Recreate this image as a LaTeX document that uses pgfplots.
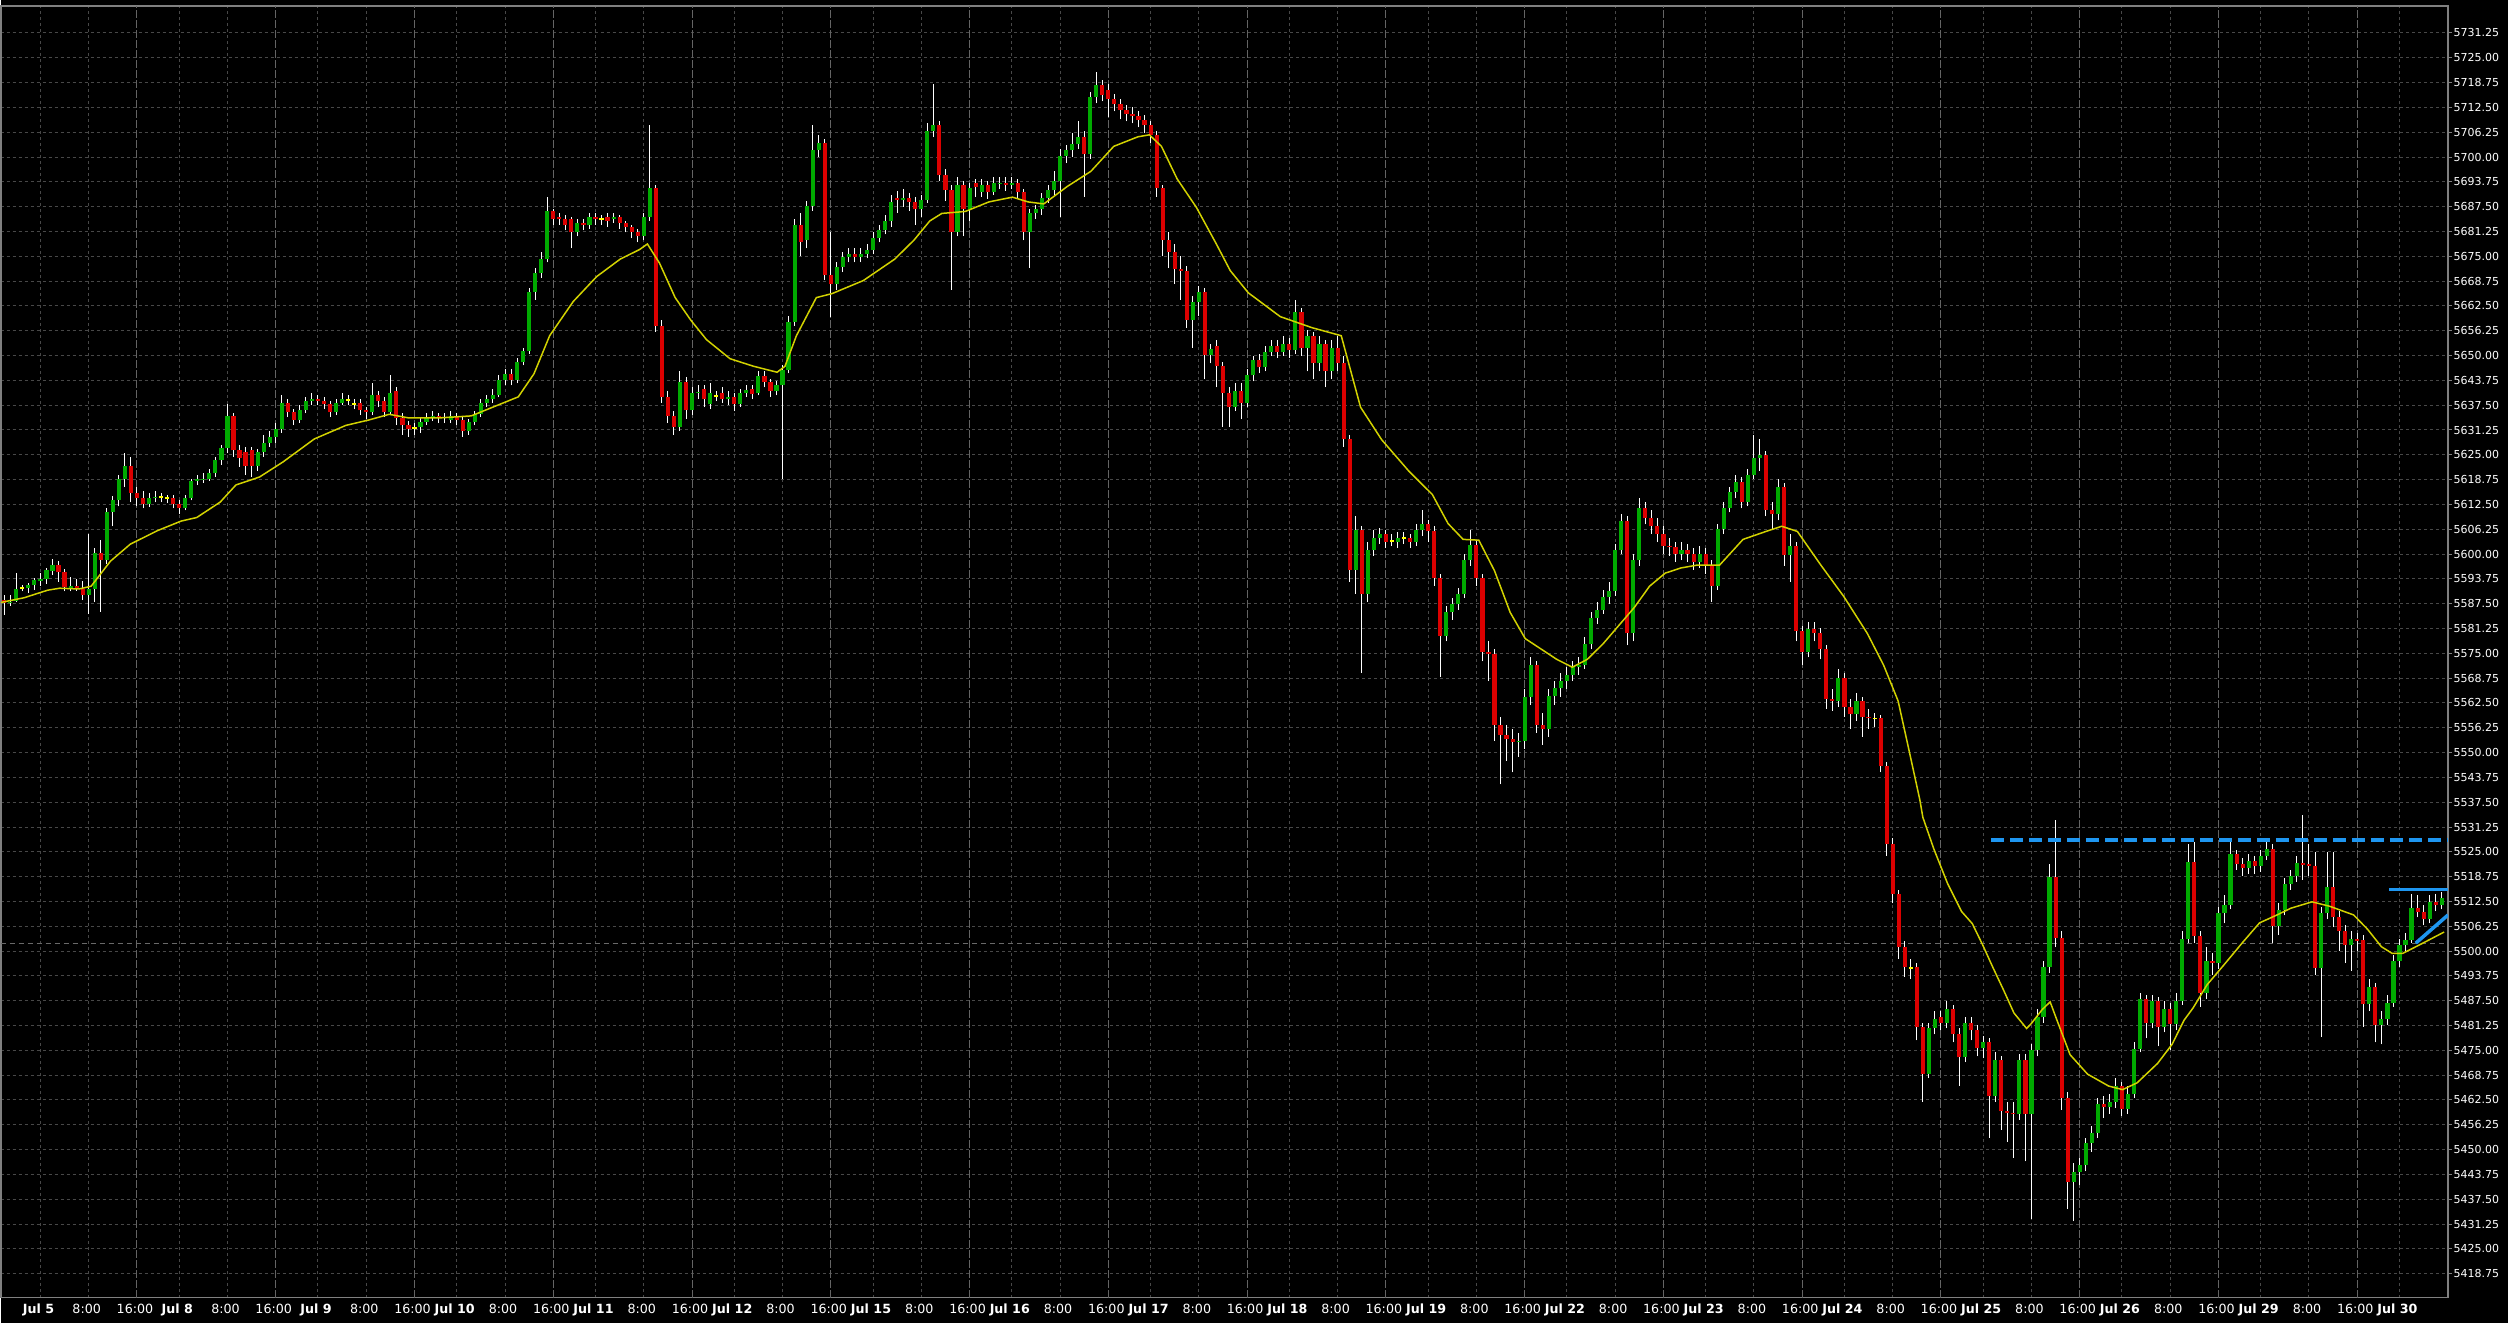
\documentclass[border=0pt]{standalone}
\usepackage{fontspec}
\setmainfont{DejaVu Sans}
\usepackage{pgfplots}
\usepackage{pgfplotstable}
\pgfplotsset{compat=1.18}
\definecolor{gridc}{RGB}{72,72,72}
\definecolor{sepc}{RGB}{100,100,100}
\definecolor{framec}{RGB}{128,128,128}
\definecolor{cgreen}{RGB}{0,170,0}
\definecolor{cred}{RGB}{220,0,0}
\definecolor{cdoji}{RGB}{255,255,0}
\definecolor{cma}{RGB}{210,210,0}
\definecolor{cblue}{RGB}{30,150,240}
\definecolor{cprice}{RGB}{105,105,105}

\pgfplotstableread{
x o h l c
-6 5588.4 5589.8 5584.7 5587.7
-5 5587.7 5589.8 5587.0 5588.0
-4 5588.2 5595.2 5588.0 5591.3
-3 5591.4 5592.3 5590.6 5591.4
-2 5591.4 5592.8 5590.3 5592.1
-1 5592.3 5594.0 5591.0 5593.4
0 5593.1 5595.2 5592.0 5593.6
1 5593.6 5596.5 5592.5 5596.0
2 5595.7 5598.7 5594.7 5597.2
3 5597.2 5598.3 5593.0 5595.4
4 5595.4 5596.2 5590.6 5591.6
5 5591.4 5594.1 5590.6 5592.0
6 5592.0 5593.6 5590.8 5591.2
7 5591.2 5593.2 5588.4 5589.8
8 5589.8 5605.1 5584.9 5591.2
9 5591.2 5601.5 5588.0 5600.2
10 5600.2 5603.5 5585.5 5598.5
11 5598.5 5611.5 5597.5 5610.7
12 5610.7 5614.5 5607.0 5613.6
13 5613.6 5620.0 5612.0 5618.9
14 5618.9 5625.5 5617.0 5622.2
15 5622.2 5624.5 5613.0 5615.5
16 5615.5 5617.0 5612.0 5614.0
17 5614.0 5616.0 5611.5 5612.6
18 5612.6 5615.5 5611.8 5614.0
19 5614.0 5616.0 5613.0 5614.4
20 5614.3 5615.5 5613.0 5614.3
21 5614.1 5615.0 5612.8 5614.1
22 5614.1 5615.0 5611.5 5612.6
23 5612.6 5613.5 5610.0 5611.7
24 5611.7 5615.0 5611.0 5614.0
25 5614.0 5619.0 5613.5 5618.4
26 5618.4 5620.0 5617.5 5618.9
27 5618.9 5620.5 5618.0 5619.0
28 5619.0 5621.5 5618.5 5620.3
29 5620.3 5624.5 5619.5 5623.7
30 5623.7 5627.5 5622.5 5626.6
31 5626.6 5637.7 5625.5 5634.8
32 5634.8 5635.5 5624.5 5626.1
33 5626.1 5627.5 5622.0 5624.2
34 5625.6 5627.0 5620.0 5622.2
35 5626.1 5627.0 5619.5 5622.2
36 5622.2 5626.5 5621.0 5625.6
37 5625.6 5630.0 5624.5 5628.0
38 5628.0 5631.0 5627.0 5629.5
39 5629.5 5633.0 5628.0 5631.4
40 5631.4 5640.0 5630.5 5638.1
41 5638.1 5639.0 5634.5 5635.7
42 5635.7 5636.5 5632.5 5633.8
43 5633.8 5637.5 5633.0 5636.2
44 5636.2 5639.5 5635.5 5638.6
45 5638.6 5640.5 5637.5 5639.1
46 5639.1 5640.0 5637.5 5638.5
47 5638.5 5639.5 5636.5 5637.7
48 5637.7 5638.5 5634.5 5635.7
49 5635.7 5639.0 5635.0 5638.1
50 5638.1 5640.5 5637.5 5639.1
51 5638.8 5640.0 5637.5 5638.8
52 5637.8 5639.0 5636.5 5637.8
53 5638.1 5639.0 5635.0 5636.2
54 5636.2 5637.0 5634.0 5635.9
55 5635.9 5643.0 5635.0 5640.1
56 5640.1 5641.0 5637.0 5638.6
57 5638.6 5639.5 5634.5 5635.9
58 5635.9 5645.0 5635.0 5640.6
59 5641.0 5642.0 5632.5 5634.3
60 5634.3 5635.5 5630.0 5632.4
61 5632.4 5633.5 5629.5 5631.4
62 5631.7 5633.0 5630.0 5631.7
63 5631.9 5634.5 5630.5 5633.3
64 5633.3 5635.5 5632.5 5634.3
65 5634.3 5636.0 5633.5 5634.8
66 5634.8 5635.5 5633.0 5634.3
67 5634.3 5635.5 5633.0 5634.5
68 5633.8 5636.0 5633.0 5634.8
69 5634.8 5635.5 5632.5 5633.8
70 5633.8 5634.5 5629.5 5630.9
71 5630.9 5634.0 5630.0 5633.3
72 5633.3 5636.0 5632.5 5635.3
73 5635.3 5639.0 5634.5 5638.1
74 5638.1 5640.0 5637.0 5639.1
75 5639.1 5641.5 5638.0 5640.1
76 5640.1 5645.0 5639.5 5643.9
77 5643.9 5646.5 5642.5 5645.4
78 5645.4 5646.5 5642.5 5643.9
79 5643.9 5649.5 5643.0 5648.3
80 5648.3 5652.0 5647.5 5651.1
81 5651.1 5667.0 5650.5 5666.1
82 5666.1 5672.0 5664.0 5670.9
83 5670.9 5676.0 5669.5 5674.3
84 5674.3 5690.0 5673.5 5686.3
85 5686.3 5687.0 5683.0 5684.4
86 5684.9 5686.0 5683.0 5684.4
87 5684.4 5685.5 5681.5 5682.9
88 5684.4 5685.0 5677.0 5681.0
89 5681.0 5684.5 5680.0 5683.4
90 5683.4 5684.5 5681.5 5682.9
91 5682.9 5686.0 5682.0 5684.9
92 5684.9 5686.0 5683.0 5684.4
93 5684.4 5685.5 5683.0 5684.4
94 5684.9 5686.0 5682.5 5683.9
95 5684.4 5686.0 5683.5 5684.9
96 5684.9 5685.5 5682.0 5683.4
97 5683.4 5684.0 5681.0 5682.4
98 5682.4 5683.0 5679.5 5681.0
99 5681.0 5682.0 5678.5 5680.0
100 5680.0 5686.0 5679.0 5684.9
101 5684.9 5708.0 5684.0 5692.1
102 5692.1 5693.0 5656.0 5657.4
103 5657.4 5659.0 5638.0 5639.6
104 5639.6 5641.0 5633.0 5634.8
105 5634.8 5636.0 5630.0 5631.9
106 5631.9 5646.0 5631.0 5643.4
107 5643.4 5644.5 5634.0 5636.2
108 5636.2 5642.0 5635.0 5640.6
109 5640.6 5642.5 5639.0 5640.8
110 5641.5 5642.5 5637.0 5639.1
111 5637.7 5643.0 5636.5 5640.6
112 5639.8 5641.0 5638.5 5639.8
113 5640.6 5642.0 5638.0 5639.1
114 5639.1 5641.0 5637.5 5639.6
115 5639.6 5640.5 5636.0 5637.7
116 5637.7 5641.5 5637.0 5640.6
117 5640.6 5642.5 5639.5 5641.3
118 5641.5 5642.5 5639.0 5640.3
119 5640.6 5646.0 5640.0 5644.9
120 5644.9 5646.0 5642.0 5643.4
121 5643.4 5644.0 5639.5 5641.0
122 5641.0 5643.5 5640.0 5642.5
123 5642.5 5647.5 5618.9 5646.3
124 5646.3 5660.0 5645.5 5658.4
125 5658.4 5684.5 5657.5 5682.9
126 5682.9 5686.0 5675.0 5678.6
127 5679.0 5689.0 5677.0 5687.7
128 5687.7 5708.0 5686.5 5701.7
129 5701.7 5705.6 5700.0 5703.6
130 5703.6 5704.5 5669.0 5670.4
131 5670.4 5681.0 5659.8 5668.0
132 5668.0 5673.5 5666.5 5672.3
133 5672.3 5676.0 5671.0 5674.7
134 5674.7 5677.0 5673.5 5675.7
135 5675.7 5677.0 5673.5 5674.7
136 5674.7 5677.0 5673.5 5675.7
137 5675.7 5678.0 5674.5 5676.7
138 5676.7 5681.0 5675.5 5679.6
139 5679.6 5683.0 5678.5 5681.5
140 5681.5 5685.5 5680.5 5683.9
141 5683.9 5690.5 5682.5 5688.7
142 5689.7 5691.5 5686.0 5689.2
143 5689.2 5692.0 5687.5 5689.7
144 5689.7 5691.0 5686.5 5688.7
145 5688.7 5690.0 5683.0 5686.8
146 5686.8 5690.5 5685.0 5689.2
147 5689.2 5708.5 5688.5 5706.5
148 5706.5 5718.5 5705.0 5708.0
149 5708.0 5709.0 5694.0 5695.4
150 5695.4 5697.0 5689.0 5691.6
151 5691.6 5693.0 5666.6 5681.0
152 5681.0 5695.0 5680.0 5693.0
153 5693.0 5694.0 5680.0 5686.8
154 5686.8 5693.5 5684.0 5692.1
155 5693.5 5694.5 5690.0 5692.5
156 5691.1 5694.5 5690.0 5693.0
157 5693.0 5694.0 5689.5 5691.1
158 5691.1 5695.0 5690.5 5693.5
159 5693.3 5695.0 5692.0 5693.5
160 5693.5 5695.0 5691.5 5693.0
161 5693.0 5695.0 5692.0 5693.5
162 5693.5 5694.5 5689.5 5691.1
163 5691.1 5692.0 5679.0 5681.0
164 5681.0 5687.0 5672.0 5685.8
165 5685.8 5688.0 5684.5 5686.8
166 5686.8 5691.0 5685.5 5689.7
167 5689.7 5693.0 5688.5 5691.6
168 5691.6 5696.5 5690.5 5694.0
169 5694.0 5702.0 5685.0 5700.3
170 5700.3 5703.0 5698.5 5701.7
171 5701.7 5706.0 5700.0 5703.2
172 5703.2 5709.0 5702.0 5705.1
173 5705.1 5706.5 5690.0 5700.7
174 5700.7 5716.5 5699.5 5715.2
175 5715.2 5721.4 5713.5 5718.1
176 5718.1 5719.5 5714.0 5715.7
177 5717.0 5718.5 5710.0 5714.7
178 5714.7 5716.0 5711.5 5713.3
179 5713.3 5714.5 5709.5 5711.8
180 5711.8 5713.0 5709.0 5710.9
181 5710.9 5712.5 5708.5 5710.4
182 5710.4 5711.5 5707.5 5709.4
183 5709.4 5710.5 5706.0 5708.0
184 5708.0 5709.0 5703.5 5705.6
185 5705.6 5706.5 5690.0 5692.1
186 5692.1 5693.0 5675.0 5679.1
187 5679.1 5681.0 5672.0 5676.2
188 5676.2 5678.0 5668.0 5671.9
189 5671.9 5675.0 5664.0 5671.4
190 5671.4 5672.5 5657.0 5658.9
191 5658.9 5665.0 5652.0 5663.6
192 5663.6 5667.5 5660.0 5666.1
193 5666.1 5667.0 5644.0 5650.2
194 5650.2 5653.0 5648.0 5651.6
195 5652.5 5654.0 5642.0 5647.3
196 5647.3 5648.5 5632.0 5640.6
197 5640.6 5642.0 5632.0 5637.0
198 5637.0 5643.0 5636.0 5641.0
199 5641.0 5643.0 5634.0 5638.0
200 5638.0 5646.5 5637.0 5645.0
201 5645.0 5650.0 5643.5 5649.0
202 5649.0 5650.5 5645.5 5647.0
203 5647.0 5652.5 5646.0 5651.0
204 5651.0 5654.0 5650.0 5652.5
205 5652.5 5654.0 5649.5 5651.0
206 5651.0 5655.0 5650.0 5653.0
207 5653.0 5654.5 5649.5 5651.5
208 5651.5 5664.0 5650.5 5661.0
209 5661.0 5662.0 5650.0 5652.0
210 5652.0 5656.5 5646.0 5655.0
211 5655.0 5656.0 5644.0 5648.0
212 5648.0 5655.0 5646.0 5653.0
213 5653.0 5654.0 5642.0 5646.0
214 5646.0 5654.0 5644.0 5652.0
215 5652.0 5655.0 5646.0 5648.0
216 5648.0 5650.0 5627.0 5629.0
217 5629.0 5630.0 5593.0 5596.0
218 5596.0 5609.5 5590.0 5606.0
219 5606.0 5607.0 5570.0 5590.0
220 5590.0 5603.0 5588.0 5601.0
221 5601.0 5606.0 5599.5 5604.0
222 5604.0 5606.5 5602.5 5605.0
223 5605.0 5606.0 5601.5 5603.0
224 5603.4 5605.0 5602.0 5603.4
225 5603.0 5605.5 5601.5 5604.0
226 5604.0 5605.5 5602.5 5604.0
227 5604.0 5605.0 5601.5 5603.0
228 5603.0 5607.5 5602.0 5606.0
229 5606.0 5611.0 5604.5 5607.5
230 5607.5 5608.5 5603.0 5605.7
231 5605.7 5607.0 5592.0 5593.9
232 5593.9 5595.0 5569.0 5579.4
233 5579.4 5587.0 5578.0 5585.3
234 5585.3 5589.0 5583.5 5587.3
235 5587.3 5591.5 5586.0 5590.0
236 5590.0 5600.0 5589.0 5598.5
237 5598.5 5606.0 5597.0 5602.4
238 5602.4 5603.5 5592.0 5594.0
239 5594.0 5595.0 5573.0 5575.4
240 5575.4 5578.0 5568.0 5574.8
241 5574.8 5576.0 5553.0 5557.0
242 5557.0 5559.0 5542.0 5554.4
243 5554.4 5557.0 5548.0 5553.5
244 5553.5 5556.0 5545.0 5552.6
245 5552.6 5555.0 5549.0 5553.0
246 5553.0 5566.0 5551.0 5564.0
247 5564.0 5574.0 5562.0 5572.1
248 5572.1 5573.0 5555.0 5557.0
249 5557.0 5560.0 5552.0 5556.0
250 5556.0 5566.0 5554.0 5564.3
251 5564.3 5568.0 5562.0 5566.2
252 5566.2 5570.0 5564.0 5568.0
253 5568.0 5571.5 5566.0 5569.6
254 5569.6 5573.0 5568.0 5571.5
255 5571.5 5574.0 5569.5 5572.1
256 5572.1 5579.0 5571.0 5577.4
257 5577.4 5585.5 5576.0 5584.0
258 5584.0 5588.0 5582.5 5586.0
259 5586.0 5591.0 5585.0 5589.3
260 5589.3 5593.0 5587.5 5590.6
261 5590.6 5602.5 5589.5 5601.1
262 5601.1 5610.0 5600.0 5608.4
263 5608.4 5609.5 5577.0 5580.0
264 5580.0 5600.0 5578.0 5598.5
265 5598.5 5614.0 5597.0 5611.6
266 5611.6 5613.0 5607.5 5609.0
267 5609.0 5611.0 5605.0 5607.0
268 5607.0 5609.0 5603.0 5605.0
269 5605.0 5607.0 5600.0 5602.0
270 5602.0 5604.0 5599.5 5601.8
271 5601.8 5603.0 5598.0 5600.0
272 5600.0 5603.0 5598.5 5601.0
273 5601.0 5602.5 5598.0 5600.0
274 5600.0 5601.5 5596.0 5598.0
275 5598.0 5602.0 5596.5 5600.0
276 5600.0 5601.5 5595.0 5597.0
277 5597.0 5598.5 5588.0 5591.9
278 5591.9 5607.5 5591.0 5606.4
279 5606.4 5613.0 5605.0 5611.6
280 5611.6 5617.0 5610.5 5615.6
281 5615.6 5620.0 5614.0 5618.2
282 5618.2 5619.5 5611.5 5613.0
283 5613.0 5621.5 5612.0 5620.0
284 5620.0 5630.0 5619.0 5624.2
285 5624.2 5629.0 5621.0 5625.0
286 5625.0 5626.0 5609.5 5611.0
287 5611.0 5613.0 5606.0 5610.0
288 5610.0 5619.0 5608.5 5617.0
289 5617.0 5618.0 5597.0 5599.8
290 5599.8 5605.0 5593.0 5602.0
291 5602.0 5603.0 5578.0 5580.7
292 5580.7 5582.0 5572.0 5575.4
293 5575.4 5583.0 5574.0 5581.0
294 5581.0 5583.0 5578.0 5580.0
295 5580.0 5581.5 5573.5 5576.0
296 5576.0 5577.0 5561.0 5563.6
297 5563.6 5566.0 5560.5 5563.0
298 5563.0 5571.0 5561.5 5568.9
299 5568.9 5570.0 5559.0 5561.6
300 5561.6 5563.5 5556.0 5559.6
301 5559.6 5565.0 5558.0 5563.0
302 5563.0 5564.0 5554.0 5559.0
303 5559.0 5561.0 5556.0 5558.8
304 5558.6 5560.0 5556.5 5558.6
305 5558.6 5559.5 5545.0 5546.5
306 5546.5 5547.5 5524.0 5527.0
307 5527.0 5528.5 5512.0 5514.3
308 5514.3 5515.5 5498.0 5501.1
309 5501.1 5502.5 5493.5 5495.9
310 5495.7 5498.0 5493.0 5495.7
311 5496.0 5497.0 5477.5 5480.9
312 5480.9 5482.0 5462.0 5469.0
313 5469.0 5482.0 5468.0 5480.5
314 5480.5 5485.0 5479.0 5483.0
315 5483.3 5485.0 5480.0 5481.8
316 5481.8 5487.5 5480.5 5485.5
317 5485.5 5486.5 5477.0 5479.1
318 5479.1 5480.5 5466.0 5473.2
319 5473.2 5483.5 5472.0 5481.8
320 5481.8 5483.5 5477.5 5480.0
321 5480.0 5481.5 5473.5 5475.6
322 5475.6 5478.5 5473.0 5477.0
323 5477.0 5478.0 5453.0 5463.5
324 5463.5 5474.5 5462.0 5472.5
325 5472.5 5473.5 5455.0 5459.8
326 5459.8 5462.0 5452.0 5459.3
327 5459.3 5462.0 5448.0 5458.9
328 5458.9 5474.0 5457.5 5472.5
329 5472.5 5474.0 5447.0 5458.9
330 5458.9 5476.5 5432.5 5475.0
331 5475.0 5485.5 5473.5 5483.5
332 5483.5 5497.5 5482.0 5495.9
333 5495.9 5522.0 5494.5 5518.6
334 5518.6 5533.1 5501.0 5503.3
335 5503.3 5505.0 5460.0 5462.9
336 5462.9 5464.5 5435.0 5441.8
337 5441.8 5446.5 5432.0 5444.4
338 5444.4 5448.0 5441.0 5446.0
339 5446.0 5453.0 5444.5 5451.6
340 5451.6 5456.0 5449.5 5454.3
341 5454.3 5463.0 5453.0 5461.5
342 5461.5 5463.5 5458.0 5460.8
343 5460.8 5464.0 5459.0 5462.0
344 5462.0 5468.0 5460.5 5466.1
345 5466.1 5467.0 5458.5 5460.2
346 5460.2 5466.0 5459.0 5464.0
347 5464.0 5477.0 5463.0 5475.4
348 5475.4 5489.5 5474.5 5487.9
349 5487.9 5489.0 5478.0 5481.9
350 5481.9 5489.0 5480.5 5487.5
351 5487.5 5488.5 5476.0 5481.0
352 5481.0 5487.5 5479.5 5485.5
353 5485.5 5487.0 5475.0 5481.6
354 5481.6 5489.5 5480.0 5487.5
355 5487.5 5505.0 5486.5 5503.0
356 5503.0 5527.0 5502.0 5522.4
357 5522.4 5527.5 5502.0 5503.8
358 5503.8 5505.0 5486.0 5489.5
359 5489.5 5501.0 5488.0 5497.4
360 5497.4 5499.5 5494.0 5496.9
361 5496.9 5511.0 5495.5 5509.5
362 5509.5 5514.0 5507.0 5511.7
363 5511.7 5527.5 5510.5 5524.5
364 5524.5 5525.5 5520.5 5522.0
365 5522.0 5523.5 5519.0 5521.0
366 5521.0 5524.5 5519.5 5522.7
367 5522.7 5524.0 5519.5 5521.4
368 5521.4 5525.5 5520.0 5524.0
369 5524.0 5528.0 5523.0 5525.8
370 5525.8 5527.0 5502.0 5506.4
371 5506.4 5512.0 5504.0 5510.4
372 5510.4 5518.5 5509.0 5517.0
373 5517.0 5520.5 5515.5 5518.8
374 5518.8 5524.0 5517.5 5522.3
375 5522.3 5534.2 5518.0 5521.8
376 5522.0 5527.0 5519.0 5521.5
377 5521.5 5525.0 5494.0 5495.8
378 5495.8 5511.0 5478.3 5509.5
379 5509.5 5525.0 5508.0 5516.1
380 5516.1 5525.0 5506.0 5508.6
381 5508.6 5510.0 5500.0 5505.0
382 5505.0 5506.5 5497.0 5501.6
383 5501.6 5505.0 5495.0 5503.0
384 5503.0 5504.5 5500.0 5502.6
385 5502.9 5504.0 5481.0 5486.6
386 5486.6 5493.0 5485.0 5491.0
387 5491.0 5492.0 5477.0 5481.3
388 5481.3 5485.0 5476.5 5483.0
389 5483.0 5489.0 5481.5 5487.0
390 5487.0 5499.0 5486.0 5497.6
391 5497.6 5503.0 5496.0 5501.6
392 5501.6 5504.5 5500.0 5502.9
393 5502.9 5514.5 5502.0 5510.8
394 5510.8 5514.0 5508.5 5509.8
395 5509.8 5511.5 5506.5 5508.0
396 5508.0 5514.0 5507.0 5512.4
397 5512.4 5514.5 5510.0 5511.6
398 5511.6 5515.0 5510.5 5513.3
}\candles

\pgfplotstableread{
x y
-6.6 5587.8
-2.7 5589.0
1.2 5590.9
3.2 5591.4
6.4 5591.2
8.4 5591.9
11.6 5598.2
14.9 5602.5
19.4 5605.9
23.3 5608.3
25.9 5609.2
29.8 5613.1
32.4 5617.4
36.3 5619.4
40.2 5623.2
45.4 5629.0
50.6 5632.4
54.5 5633.8
57.8 5635.2
61.0 5634.3
66.2 5634.3
71.4 5634.8
75.3 5637.2
79.2 5639.6
81.8 5645.4
84.4 5655.0
88.3 5663.6
92.2 5669.9
96.1 5674.3
99.3 5676.7
100.6 5678.1
102.6 5673.3
105.2 5664.6
107.8 5658.9
110.4 5654.0
114.3 5649.2
118.2 5647.3
122.1 5645.8
123.4 5647.3
125.3 5655.0
128.6 5664.6
131.2 5665.6
136.4 5668.9
141.6 5674.3
144.8 5679.1
147.4 5683.9
149.4 5685.8
153.3 5686.3
157.2 5688.7
161.1 5689.9
163.7 5688.7
166.3 5688.2
170.2 5692.6
174.1 5696.4
177.9 5702.7
181.9 5705.1
183.8 5705.6
185.8 5702.7
188.4 5694.5
191.6 5687.3
194.9 5678.1
197.2 5671.4
200.2 5665.8
205.5 5659.8
210.8 5657.0
215.6 5655.0
218.8 5637.0
222.3 5628.8
226.8 5620.9
230.7 5615.0
233.3 5607.7
235.8 5603.7
238.4 5603.5
241.0 5595.8
243.6 5585.3
246.1 5578.7
248.7 5576.1
251.3 5573.5
253.9 5571.5
256.4 5573.5
259.0 5577.4
261.6 5582.0
264.2 5586.6
266.7 5591.9
269.3 5595.2
271.9 5596.5
274.5 5597.2
278.3 5597.2
282.2 5603.7
286.0 5605.7
288.6 5607.0
291.2 5605.7
295.1 5597.2
298.9 5589.3
302.8 5580.0
305.5 5572.0
307.9 5563.0
309.5 5552.0
311.5 5538.1
312.0 5533.7
313.8 5525.8
316.1 5517.0
318.4 5510.0
320.2 5506.9
321.9 5501.6
323.6 5495.9
325.4 5490.1
327.1 5484.4
329.2 5480.5
330.0 5481.8
331.8 5485.3
333.1 5487.2
334.1 5483.1
336.4 5473.9
339.3 5469.0
342.8 5466.0
345.1 5465.1
347.5 5466.8
350.9 5471.7
353.3 5476.5
355.3 5482.6
356.8 5485.7
359.1 5491.5
362.0 5496.7
364.9 5502.0
367.8 5507.1
370.7 5509.1
373.0 5510.8
376.5 5512.4
379.4 5511.3
383.4 5509.1
385.7 5505.5
388.0 5501.1
389.8 5499.4
391.5 5499.4
393.2 5500.7
395.5 5502.5
398.4 5504.8
}\matable

\begin{document}
\begin{tikzpicture}
\fill[black] (0,-7.5pt) rectangle (752.4pt,389.4pt);
\begin{axis}[
  at={(0,0)}, anchor=south west,
  scale only axis, width=734.4pt, height=387.6pt,
  xmin=-6.578, xmax=399.05, ymin=5412.71, ymax=5738.05,
  axis line style={draw=framec, line width=0.45pt},
  clip=true,
  grid=major,
  major grid style={draw=gridc, line width=0.3pt, dash pattern=on 0.9pt off 0.9pt},
  xtick={0,8,23,31,46,54,69,77,92,100,115,123,138,146,161,169,184,192,207,215,230,238,253,261,276,284,299,307,322,330,345,353,368,376,391},
  xticklabels={\textbf{Jul 5},8:00,\textbf{Jul 8},8:00,\textbf{Jul 9},8:00,\textbf{Jul 10},8:00,\textbf{Jul 11},8:00,\textbf{Jul 12},8:00,\textbf{Jul 15},8:00,\textbf{Jul 16},8:00,\textbf{Jul 17},8:00,\textbf{Jul 18},8:00,\textbf{Jul 19},8:00,\textbf{Jul 22},8:00,\textbf{Jul 23},8:00,\textbf{Jul 24},8:00,\textbf{Jul 25},8:00,\textbf{Jul 26},8:00,\textbf{Jul 29},8:00,\textbf{Jul 30}},
  extra x ticks={16,39,62,85,108,131,154,177,200,223,246,269,292,315,338,361,384},
  extra x tick labels={16:00,16:00,16:00,16:00,16:00,16:00,16:00,16:00,16:00,16:00,16:00,16:00,16:00,16:00,16:00,16:00,16:00},
  extra x tick style={grid=major, major grid style={draw=sepc, line width=0.3pt, dash pattern=on 2.4pt off 0.6pt}, tick style={draw=none}},
  xtick style={draw=none},
  xticklabel style={font=\fontsize{3.8pt}{4.1pt}\selectfont, text=white, anchor=north, inner sep=0pt, yshift=-0.4pt, xshift=-0.6pt},
  ytick={5418.75,5425,5431.25,5437.5,5443.75,5450,5456.25,5462.5,5468.75,5475,5481.25,5487.5,5493.75,5500,5506.25,5512.5,5518.75,5525,5531.25,5537.5,5543.75,5550,5556.25,5562.5,5568.75,5575,5581.25,5587.5,5593.75,5600,5606.25,5612.5,5618.75,5625,5631.25,5637.5,5643.75,5650,5656.25,5662.5,5668.75,5675,5681.25,5687.5,5693.75,5700,5706.25,5712.5,5718.75,5725,5731.25},
  yticklabels={5418.75,5425.00,5431.25,5437.50,5443.75,5450.00,5456.25,5462.50,5468.75,5475.00,5481.25,5487.50,5493.75,5500.00,5506.25,5512.50,5518.75,5525.00,5531.25,5537.50,5543.75,5550.00,5556.25,5562.50,5568.75,5575.00,5581.25,5587.50,5593.75,5600.00,5606.25,5612.50,5618.75,5625.00,5631.25,5637.50,5643.75,5650.00,5656.25,5662.50,5668.75,5675.00,5681.25,5687.50,5693.75,5700.00,5706.25,5712.50,5718.75,5725.00,5731.25},
  ytick pos=right, yticklabel pos=right,
  ytick style={draw=framec, line width=0.3pt},
  major tick length=1.2pt, tick align=outside,
  yticklabel style={font=\fontsize{3.3pt}{3.6pt}\selectfont, text=white, anchor=west, inner sep=0pt, xshift=0.3pt},
]
\addplot[cprice, line width=0.3pt, dash pattern=on 1.5pt off 1.2pt, mark=none, forget plot] coordinates {(-6.578,5502) (399.05,5502)};
% wicks
\addplot[draw=none, mark=none, forget plot,
  error bars/.cd, y dir=plus, y explicit, error mark=none,
  error bar style={draw=white, line width=0.3pt, solid}]
  table[x=x, y=l, y error expr=\thisrow{h}-\thisrow{l}] {\candles};
% up bodies
\addplot[draw=none, mark=none, forget plot,
  restrict expr to domain={\thisrow{c}-\thisrow{o}}{0.01:1000},
  error bars/.cd, y dir=plus, y explicit, error mark=none,
  error bar style={draw=cgreen, line width=1.25pt, solid}]
  table[x=x, y=o, y error expr=\thisrow{c}-\thisrow{o}] {\candles};
% down bodies
\addplot[draw=none, mark=none, forget plot,
  restrict expr to domain={\thisrow{o}-\thisrow{c}}{0.01:1000},
  error bars/.cd, y dir=plus, y explicit, error mark=none,
  error bar style={draw=cred, line width=1.25pt, solid}]
  table[x=x, y=c, y error expr=\thisrow{o}-\thisrow{c}] {\candles};
% doji
\addplot[draw=none, mark=none, forget plot,
  restrict expr to domain={abs(\thisrow{o}-\thisrow{c})}{-1:0.005},
  error bars/.cd, y dir=both, y explicit, error mark=none,
  error bar style={draw=cdoji, line width=1.25pt, solid}]
  table[x=x, y=c, y error expr=0.2] {\candles};
% moving average
\addplot[cma, line width=0.45pt, mark=none] table[x=x, y=y] {\matable};
% drawn lines
\addplot[cblue, line width=1.2pt, dash pattern=on 3.9pt off 1.8pt, mark=none] coordinates {(323.3,5528) (399.05,5528)};
\addplot[cblue, line width=1.05pt, mark=none] coordinates {(389.3,5515.5) (399.05,5515.5)};
\addplot[cblue, line width=1.05pt, mark=none] coordinates {(393.7,5502) (399.05,5509.1)};
\end{axis}
\end{tikzpicture}
\end{document}
